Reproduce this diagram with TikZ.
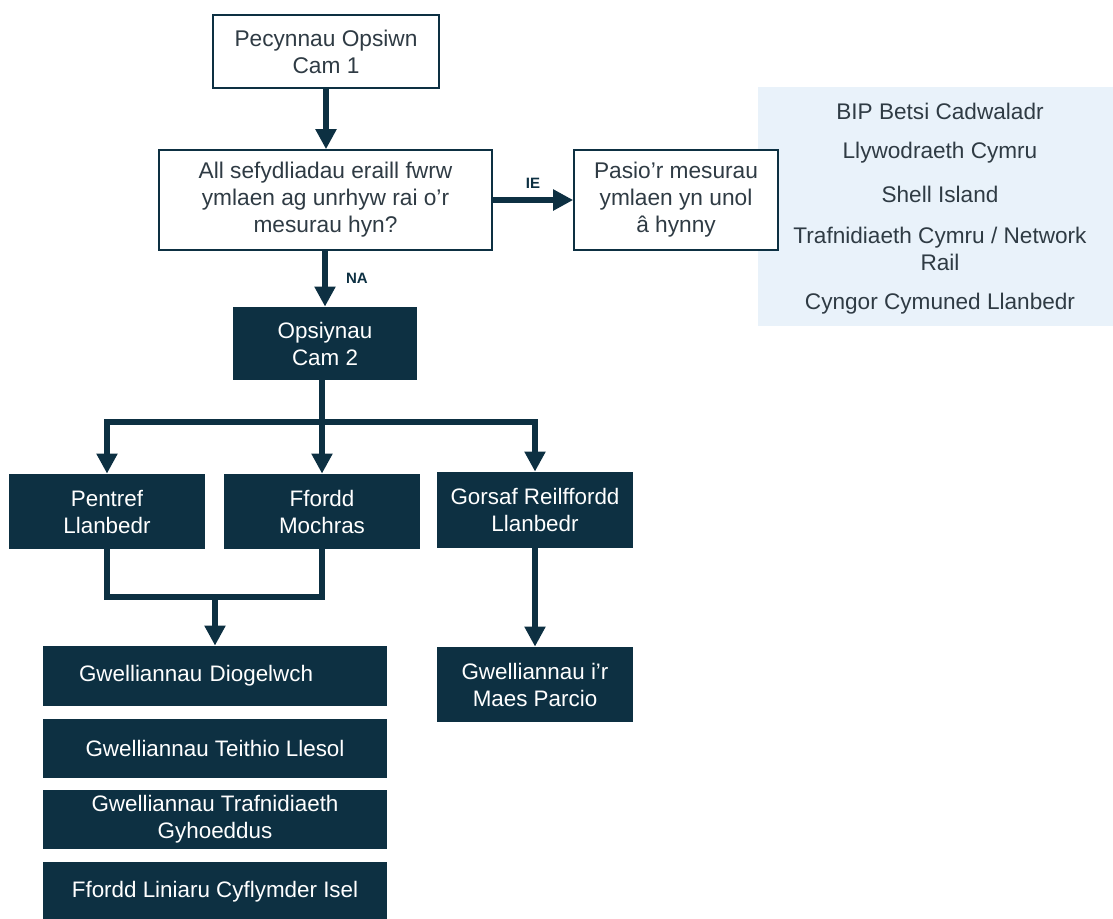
\documentclass[tikz,border=0pt]{standalone}
\usepackage{fontspec}
\setmainfont{Liberation Sans}
\usepackage{xcolor}
\usetikzlibrary{arrows.meta,positioning}
\definecolor{navy}{HTML}{0D3042}
\definecolor{paleblue}{HTML}{E9F2FA}
\definecolor{inkgrey}{HTML}{2F3B44}

\begin{document}
\begin{tikzpicture}[x=0.5pt, y=-0.5pt,
  whitebox/.style={draw=navy, line width=0.8pt, fill=white, text=inkgrey, align=center, inner sep=0pt, font=\fontsize{11.35}{13.5}\selectfont},
  darkbox/.style={fill=navy, text=white, align=center, inner sep=0pt, font=\fontsize{11.2}{13.5}\selectfont},
  flow/.style={navy, line width=3pt, -{Triangle[width=10pt,length=10pt]}},
  link/.style={navy, line width=3pt},
  lbl/.style={text=navy, inner sep=1pt, font=\fontsize{7.5}{9}\selectfont\bfseries},
  org/.style={text=inkgrey, align=center, inner sep=0pt, font=\fontsize{11.3}{13.5}\selectfont}]
\useasboundingbox (0,0) rectangle (1113,918);

\fill[paleblue] (758,87) rectangle (1113,326);
\node[org] (org1) at (940,111) {BIP Betsi Cadwaladr};
\node[org] (org2) at (940,153) {Llywodraeth Cymru};
\node[org] (org3) at (940,194) {Shell Island};
\node[org] (org4) at (940,249) {Trafnidiaeth Cymru / Network\\Rail};
\node[org] (org5) at (940,304) {Cyngor Cymuned Llanbedr};

\node[whitebox, minimum width=113pt, minimum height=36.5pt] (start) at (326,51.5) {Pecynnau Opsiwn\\Cam 1};
\node[whitebox, minimum width=166.5pt, minimum height=50pt] (question) at (325.5,200) {All sefydliadau eraill fwrw\\ymlaen ag unrhyw rai o’r\\mesurau hyn?};
\node[whitebox, minimum width=102pt, minimum height=50pt] (pasio) at (676,200) {Pasio’r mesurau\\ymlaen yn unol\\â hynny};

\node[darkbox, minimum width=92pt, minimum height=36.5pt] (opsiynau) at (325,343.5) {Opsiynau\\Cam 2};
\node[darkbox, minimum width=98pt, minimum height=37.5pt] (pentref) at (107,511.5) {Pentref\\Llanbedr};
\node[darkbox, minimum width=98pt, minimum height=37.5pt] (ffordd) at (322,511.5) {Ffordd\\Mochras};
\node[darkbox, minimum width=98pt, minimum height=38pt] (gorsaf) at (535,510) {Gorsaf Reilffordd\\Llanbedr};

\node[darkbox, minimum width=172pt, minimum height=30pt, text width=136pt, inner xsep=18pt, align=left] (diogelwch) at (215,676) {Gwelliannau Diogelwch};
\node[darkbox, minimum width=172pt, minimum height=29.5pt] (teithio) at (215,748.5) {Gwelliannau Teithio Llesol};
\node[darkbox, minimum width=172pt, minimum height=29.5pt] (cyhoeddus) at (215,819.5) {Gwelliannau Trafnidiaeth\\Gyhoeddus};
\node[darkbox, minimum width=172pt, minimum height=30pt] (liniaru) at (215,892) {Ffordd Liniaru Cyflymder Isel};
\node[darkbox, minimum width=98pt, minimum height=37.5pt] (parcio) at (535,684.5) {Gwelliannau i’r\\Maes Parcio};

\coordinate (split) at (ffordd.north |- 0,422);
\coordinate (join) at (diogelwch.north |- 0,597);

\draw[flow] (start.south) to (start.south |- question.north);
\draw[flow] (question.east) to node[lbl, above=3.5pt] {IE} (pasio.west);
\draw[flow] (question.south -| opsiynau.north) to node[lbl, right=8pt] {NA} (opsiynau.north);

\draw[flow] (opsiynau.south -| split) to (ffordd.north);
\draw[flow] (split) -| (pentref.north);
\draw[flow] (split) -| (gorsaf.north);

\draw[link] (pentref.south) |- (ffordd.south |- join) to (ffordd.south);
\draw[flow] (join) to (diogelwch.north);
\draw[flow] (gorsaf.south) to (parcio.north);
\end{tikzpicture}
\end{document}
